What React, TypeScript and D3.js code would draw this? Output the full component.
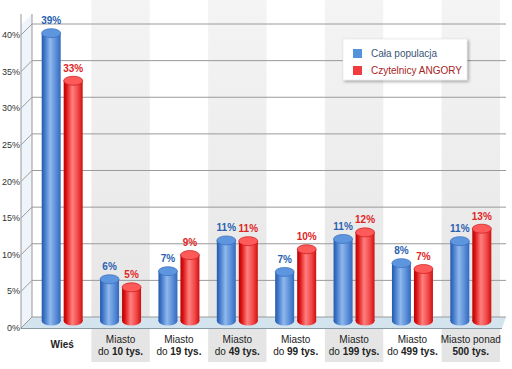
import * as d3 from 'd3';

const categories = ['Wieś', 'Miasto do 10 tys.', 'Miasto do 19 tys.', 'Miasto do 49 tys.', 'Miasto do 99 tys.', 'Miasto do 199 tys.', 'Miasto do 499 tys.', 'Miasto ponad 500 tys.'];
const labelLine1 = ['', 'Miasto', 'Miasto', 'Miasto', 'Miasto', 'Miasto', 'Miasto', 'Miasto ponad'];
const labelPre = ['', 'do ', 'do ', 'do ', 'do ', 'do ', 'do ', ''];
const labelBold = ['Wieś', '10 tys.', '19 tys.', '49 tys.', '99 tys.', '199 tys.', '499 tys.', '500 tys.'];
const calaPopulacja = [39.3, 5.7, 6.8, 11.0, 6.7, 11.2, 7.9, 10.9];
const czytelnicy = [32.8, 4.6, 9.0, 10.9, 9.8, 12.1, 7.1, 12.6];
const yTicks = [0, 5, 10, 15, 20, 25, 30, 35, 40];
const seriesNames = ['Cała populacja', 'Czytelnicy ANGORY'];

const W = 512;
const H = 369;
const depthY = 11;

export default function App() {
  const x = d3.scaleBand<number>().domain(d3.range(categories.length)).range([33, 500]);
  const yBack = d3.scaleLinear().domain([0, 40]).range([317, 24]);
  const yFront = (v: number) => yBack(v) + depthY;
  const yCyl = (v: number) => yBack(v) + 4;
  const r = 9.5;
  const ry = 4.5;

  const series = [
    { values: calaPopulacja, grad: 'gBlue', top: '#5d95de', topStroke: '#3a6fbf', label: '#2a5fb0', off: -11 },
    { values: czytelnicy, grad: 'gRed', top: '#ff5a5a', topStroke: '#c81a1a', label: '#e02424', off: 11 },
  ];

  const right = x.range()[1];

  return (
    <svg width={W} height={H} style={{ position: 'absolute', left: 0, top: 0, background: '#fff' }} fontFamily="Liberation Sans, Arial, sans-serif">
      <defs>
        <linearGradient id="gBlue" x1="0" x2="1" y1="0" y2="0">
          <stop offset="0" stopColor="#2458aa" />
          <stop offset="0.15" stopColor="#3e76c8" />
          <stop offset="0.45" stopColor="#8fb8ec" />
          <stop offset="0.75" stopColor="#5a8ed8" />
          <stop offset="1" stopColor="#3468bc" />
        </linearGradient>
        <linearGradient id="gRed" x1="0" x2="1" y1="0" y2="0">
          <stop offset="0" stopColor="#b80000" />
          <stop offset="0.15" stopColor="#dc1414" />
          <stop offset="0.45" stopColor="#ff8080" />
          <stop offset="0.75" stopColor="#f24848" />
          <stop offset="1" stopColor="#cc1010" />
        </linearGradient>
        <linearGradient id="gBand" x1="0" x2="0" y1="0" y2="1">
          <stop offset="0" stopColor="#f4f4f4" />
          <stop offset="1" stopColor="#e4e4e4" />
        </linearGradient>
        <filter id="shadow" x="-10%" y="-20%" width="130%" height="160%">
          <feDropShadow dx="1.5" dy="1.5" stdDeviation="1.5" floodColor="#000" floodOpacity="0.35" />
        </filter>
      </defs>

      {/* alternating bands */}
      {categories.map((c, i) => (
        i % 2 === 1 ? (
          <rect key={c} x={x(i)} y={0} width={x.bandwidth()} height={362} fill="url(#gBand)" />
        ) : null
      ))}

      {/* left wall */}
      <polygon points={`21,${14 + depthY} 32,14 32,${yBack(0)} 21,${yFront(0)}`} fill="#eef4fa" />
      <line x1={32} x2={32} y1={14} y2={yBack(0)} stroke="#999" />
      <line x1={21} x2={21} y1={14} y2={yFront(0) + 1} stroke="#999" />

      {/* floor */}
      <polygon points={`32,${yBack(0)} ${right + 6},${yBack(0)} ${right + 2},${yFront(0)} 21,${yFront(0)}`} fill="#d3e4ee" />
      <line x1={21} x2={right + 2} y1={yFront(0) + 0.5} y2={yFront(0) + 0.5} stroke="#8a9aa4" />

      {/* gridlines */}
      {yTicks.map(t => (
        <g key={t}>
          <line x1={32} x2={right + 6} y1={yBack(t)} y2={yBack(t)} stroke="#9a9a9a" />
          <line x1={21} x2={32} y1={yFront(t)} y2={yBack(t)} stroke="#9a9a9a" />
          <text x={20} y={yFront(t) + 3} textAnchor="end" fontSize={9} fill="#333">{t}%</text>
        </g>
      ))}

      {/* cylinders */}
      {categories.map((c, i) => {
        const cx0 = x(i)! + x.bandwidth() / 2;
        return (
          <g key={c}>
            {series.map((s, k) => {
              const cx = cx0 + s.off;
              const top = yCyl(s.values[i]);
              const base = yCyl(0);
              return (
                <g key={k}>
                  <ellipse cx={cx} cy={base} rx={r} ry={ry} fill={`url(#${s.grad})`} />
                  <rect x={cx - r} y={top} width={r * 2} height={base - top} fill={`url(#${s.grad})`} />
                  <ellipse cx={cx} cy={top} rx={r} ry={ry} fill={s.top} stroke={s.topStroke} strokeWidth={0.7} />
                  <text x={cx} y={top - 9} textAnchor="middle" fontSize={10} fontWeight="bold" fill={s.label}>
                    {Math.round(s.values[i])}%
                  </text>
                </g>
              );
            })}
          </g>
        );
      })}

      {/* category labels */}
      {categories.map((c, i) => {
        const cx = x(i)! + x.bandwidth() / 2;
        if (!labelLine1[i]) {
          return (
            <text key={c} x={cx} y={348} textAnchor="middle" fontSize={10} fontWeight="bold" fill="#222">{labelBold[i]}</text>
          );
        }
        return (
          <text key={c} x={cx} textAnchor="middle" fontSize={10} fill="#222">
            <tspan x={cx} y={343}>{labelLine1[i]}</tspan>
            <tspan x={cx} y={355}>{labelPre[i]}<tspan fontWeight="bold">{labelBold[i]}</tspan></tspan>
          </text>
        );
      })}

      {/* legend */}
      <g transform="translate(343,39)">
        <rect width={124} height={41} fill="#fff" stroke="#ddd" strokeWidth={0.5} filter="url(#shadow)" />
        {seriesNames.map((n, k) => (
          <g key={n} transform={`translate(10,${10 + k * 17})`}>
            <rect width={9} height={9} fill={k === 0 ? '#5592dc' : '#f03c3c'} />
            <text x={18} y={8} fontSize={10} fill={k === 0 ? '#3a5578' : '#a82424'}>{n}</text>
          </g>
        ))}
      </g>
    </svg>
  );
}
